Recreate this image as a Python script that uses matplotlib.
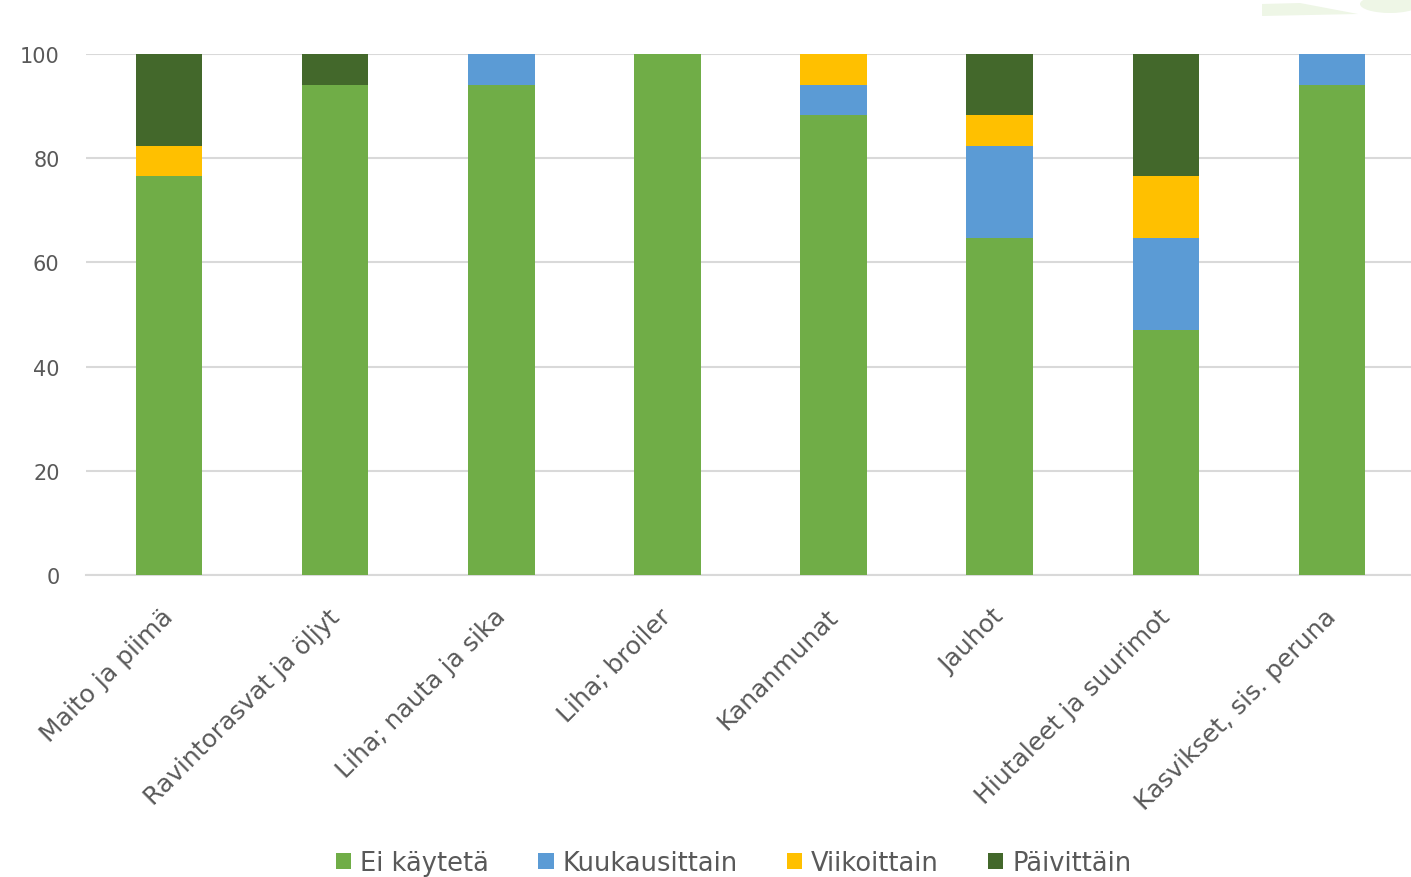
import matplotlib
matplotlib.use("Agg")
import matplotlib.pyplot as plt
from matplotlib.patches import Polygon, Ellipse
import matplotlib.transforms as mtransforms
import numpy as np

categories = ["Maito ja piimä", "Ravintorasvat ja öljyt", "Liha; nauta ja sika", "Liha; broiler",
              "Kananmunat", "Jauhot", "Hiutaleet ja suurimot", "Kasvikset, sis. peruna"]
ei_kayteta = [76.5, 94.1, 94.1, 100.0, 88.2, 64.7, 47.1, 94.1]
kuukausittain = [0.0, 0.0, 5.9, 0.0, 5.9, 17.6, 17.6, 5.9]
viikoittain = [5.9, 0.0, 0.0, 0.0, 5.9, 5.9, 11.8, 0.0]
paivittain = [17.6, 5.9, 0.0, 0.0, 0.0, 11.8, 23.5, 0.0]
series_names = ["Ei käytetä", "Kuukausittain", "Viikoittain", "Päivittäin"]
yticks = [0, 20, 40, 60, 80, 100]

colors = ["#70AD47", "#5B9BD5", "#FFC000", "#43682B"]

plt.rcParams["font.family"] = ["DejaVu Sans"]

W, H = 1411, 878
fig = plt.figure(figsize=(W / 100, H / 100), dpi=100)

# faint decorative shapes at top right (pixel coords, y from top)
def px(pts):
    return [(x / W, 1 - y / H) for x, y in pts]
fig.patches.append(Polygon(px([(1262, 5), (1300, 4), (1358, 15), (1262, 17)]), closed=True,
                           transform=fig.transFigure, facecolor="#eef6e6", edgecolor="none"))
fig.patches.append(Ellipse(((1390) / W, 1 - 5 / H), 60 / W, 18 / H, angle=0,
                           transform=fig.transFigure, facecolor="#eef6e6", edgecolor="none"))

left, right_px = 86, 1411
bottom_px, top_px = 576, 55
ax = fig.add_axes([left / W, 1 - bottom_px / H, (right_px - left) / W, (bottom_px - top_px) / H])

x = np.arange(len(categories))
data = [ei_kayteta, kuukausittain, viikoittain, paivittain]
base = np.zeros(len(categories))
for vals, c, n in zip(data, colors, series_names):
    v = np.array(vals)
    ax.bar(x, v, bottom=base, width=0.4, color=c, label=n, zorder=3)
    base += v

ax.set_ylim(0, 100)
ax.set_xlim(-0.5, 7.5 - 4 / 166)
ax.set_yticks(yticks)
ax.set_yticklabels([str(t) for t in yticks], fontsize=15, color="#595959")
ax.yaxis.grid(True, color="#d9d9d9", linewidth=1.5, zorder=0)
ax.set_axisbelow(True)
for s in ["left", "right", "top"]:
    ax.spines[s].set_visible(False)
ax.spines["bottom"].set_color("#d9d9d9")
ax.spines["bottom"].set_linewidth(1.5)
ax.tick_params(axis="y", length=0, pad=19)
ax.tick_params(axis="x", length=0, pad=21)
ax.set_xticks(x)
ax.set_xticklabels(categories, rotation=45, ha="right", rotation_mode="anchor",
                   fontsize=18, color="#595959")
for lbl in ax.get_xticklabels():
    lbl.set_transform(lbl.get_transform() + mtransforms.ScaledTranslation(-8 / 100, 0, fig.dpi_scale_trans))

handles, labels = ax.get_legend_handles_labels()
leg = fig.legend(handles, labels, loc="center", bbox_to_anchor=(0.52, 1 - 864 / H), ncol=4,
                 frameon=False, fontsize=18.5, handlelength=0.6, handleheight=0.6,
                 handletextpad=0.35, columnspacing=1.9)
for t in leg.get_texts():
    t.set_color("#595959")

fig.savefig("out.png", dpi=100)
